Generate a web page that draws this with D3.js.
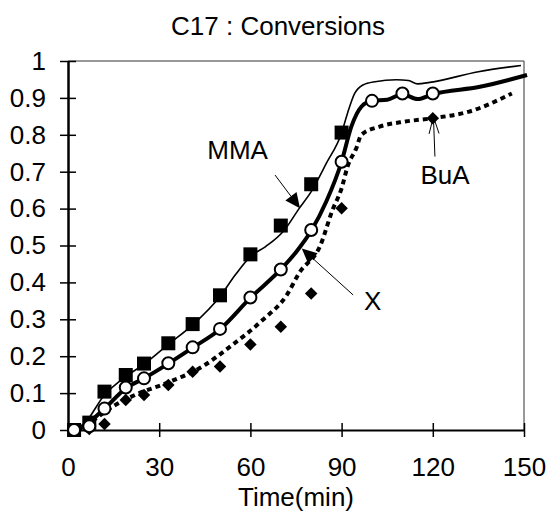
<!DOCTYPE html>
<html>
<head>
<meta charset="utf-8">
<script src="https://cdn.jsdelivr.net/npm/d3@7"></script>
<style>
  html, body { margin: 0; padding: 0; background: #fff; }
  svg { display: block; }
  text { font-family: Arial, "Liberation Sans", sans-serif; fill: #000; }
</style>
</head>
<body>
<svg id="chart" width="549" height="513"></svg>
<script>
// ---- data ----
const title = "C17 : Conversions";
const xLabel = "Time(min)";
const xTicks = [0, 30, 60, 90, 120, 150];
const yTicks = [0, 0.1, 0.2, 0.3, 0.4, 0.5, 0.6, 0.7, 0.8, 0.9, 1];

// experimental points
const mmaT = [2, 7, 12, 19, 25, 33, 41, 50, 60, 70, 80, 90];
const mmaV = [0, 0.02, 0.104, 0.149, 0.18, 0.235, 0.287, 0.365, 0.476, 0.554, 0.666, 0.806];
const xT = [2, 7, 12, 19, 25, 33, 41, 50, 60, 70, 80, 90, 100, 110, 120];
const xV = [0, 0.01, 0.058, 0.115, 0.14, 0.181, 0.224, 0.274, 0.359, 0.435, 0.542, 0.727, 0.892, 0.912, 0.912];
const buaT = [2, 7, 12, 19, 25, 33, 41, 50, 60, 70, 80, 90, 120];
const buaV = [0, 0.003, 0.016, 0.081, 0.095, 0.122, 0.158, 0.172, 0.232, 0.28, 0.37, 0.601, 0.845];

// model curves
const mmaFitT = [0, 5, 12, 19, 25, 33, 41, 50, 55, 60, 65, 71, 76, 80, 85, 90, 92, 94.3, 97, 101, 108, 112, 115, 119, 135, 149];
const mmaFitV = [0, 0.015, 0.095, 0.145, 0.178, 0.232, 0.285, 0.362, 0.42, 0.47, 0.497, 0.54, 0.6, 0.646, 0.723, 0.805, 0.86, 0.912, 0.935, 0.944, 0.949, 0.947, 0.938, 0.942, 0.971, 0.988];
const xFitT = [0, 5, 12, 19, 25, 33, 41, 50, 60, 70, 75, 80, 85, 90, 93.2, 96.5, 100, 105, 110, 115, 120, 135.5, 151];
const xFitV = [0, 0.01, 0.058, 0.113, 0.14, 0.18, 0.223, 0.273, 0.358, 0.435, 0.482, 0.54, 0.62, 0.727, 0.822, 0.876, 0.892, 0.895, 0.91, 0.897, 0.91, 0.93, 0.962];
const buaFitT = [0, 5, 9, 15, 22, 32, 45, 53, 64, 72, 76, 83, 87, 90, 92, 94.8, 96.5, 102.5, 111, 120, 132, 146];
const buaFitV = [0, 0.005, 0.03, 0.065, 0.095, 0.126, 0.176, 0.224, 0.298, 0.366, 0.425, 0.5, 0.596, 0.655, 0.715, 0.763, 0.8, 0.822, 0.836, 0.845, 0.863, 0.912];

// annotations (in data units)
const annLabels = ["MMA", "X", "BuA"];
const annTextT = [55.8, 100.2, 124];
const annTextV = [0.734, 0.325, 0.667];
const annFromT = [68.1, 93.8, 120.7];
const annFromV = [0.691, 0.366, 0.741];
const annToT = [76.3, 76.9, 120.2];
const annToV = [0.601, 0.492, 0.849];
const annHead = ["filled", "filled", "open"];

// ---- drawing ----
const W = 549, H = 513;
const margin = { left: 68, right: 25, top: 61, bottom: 83 };
const svg = d3.select("#chart");
const x = d3.scaleLinear().domain([0, 150]).range([margin.left, W - margin.right]);
const y = d3.scaleLinear().domain([0, 1]).range([H - margin.bottom, margin.top]);
const FS = 26;

// title
svg.append("text").attr("x", 278).attr("y", 35).attr("text-anchor", "middle")
  .attr("font-size", FS).text(title);

// frame top/right
svg.append("line").attr("x1", x(0)).attr("x2", x(150)).attr("y1", y(1)).attr("y2", y(1))
  .attr("stroke", "#333").attr("stroke-width", 1);
svg.append("line").attr("x1", x(150)).attr("x2", x(150)).attr("y1", y(1)).attr("y2", y(0))
  .attr("stroke", "#333").attr("stroke-width", 1);

// axes
const gx = svg.append("g").attr("transform", `translate(0,${y(0)})`)
  .call(d3.axisBottom(x).tickValues(xTicks).tickFormat(d3.format("d")).tickSize(7).tickSizeOuter(0));
gx.selectAll(".tick line").attr("y1", -7).attr("y2", 7).attr("stroke", "#000").attr("stroke-width", 1.5);
gx.select(".domain").attr("stroke", "#000").attr("stroke-width", 2);
gx.selectAll(".tick text").attr("y", 28).attr("font-size", FS)
  .attr("font-family", "Arial, 'Liberation Sans', sans-serif").attr("fill", "#000");

const gy = svg.append("g").attr("transform", `translate(${x(0)},0)`)
  .call(d3.axisLeft(y).tickValues(yTicks).tickFormat(d => d3.format("")(+d.toFixed(1))).tickSize(8).tickSizeOuter(0));
gy.selectAll(".tick line").attr("x1", 8).attr("x2", -8).attr("stroke", "#000").attr("stroke-width", 1.5);
gy.select(".domain").attr("stroke", "#000").attr("stroke-width", 2.5);
gy.selectAll(".tick text").attr("x", -22).attr("font-size", FS)
  .attr("font-family", "Arial, 'Liberation Sans', sans-serif").attr("fill", "#000");

// x label
svg.append("text").attr("x", (x(0) + x(150)) / 2).attr("y", 506).attr("text-anchor", "middle")
  .attr("font-size", FS).text(xLabel);

const zip = (ts, vs) => ts.map((t, i) => [t, vs[i]]);
const line = d3.line().x(d => x(d[0])).y(d => y(d[1])).curve(d3.curveMonotoneX);

// model lines
svg.append("path").attr("d", line(zip(mmaFitT, mmaFitV))).attr("fill", "none")
  .attr("stroke", "#000").attr("stroke-width", 1.6);
svg.append("path").attr("d", line(zip(buaFitT, buaFitV))).attr("fill", "none")
  .attr("stroke", "#000").attr("stroke-width", 4).attr("stroke-dasharray", "5,4");
svg.append("path").attr("d", line(zip(xFitT, xFitV))).attr("fill", "none")
  .attr("stroke", "#000").attr("stroke-width", 4);

// markers
svg.append("g").selectAll("rect").data(zip(mmaT, mmaV)).join("rect")
  .attr("x", d => x(d[0]) - 7).attr("y", d => y(d[1]) - 7)
  .attr("width", 14).attr("height", 14).attr("fill", "#000");
const diamond = d3.symbol().type(d3.symbolSquare).size(78);
svg.append("g").selectAll("path").data(zip(buaT, buaV)).join("path")
  .attr("d", diamond)
  .attr("transform", d => `translate(${x(d[0])},${y(d[1])}) rotate(45)`)
  .attr("fill", "#000");
svg.append("g").selectAll("circle").data(zip(xT, xV)).join("circle")
  .attr("cx", d => x(d[0])).attr("cy", d => y(d[1])).attr("r", 6)
  .attr("fill", "#fff").attr("stroke", "#000").attr("stroke-width", 2);

// annotations
annLabels.forEach((lab, i) => {
  svg.append("text").attr("x", x(annTextT[i])).attr("y", y(annTextV[i]))
    .attr("text-anchor", "middle").attr("font-size", FS).text(lab);
  const x1 = x(annFromT[i]), y1 = y(annFromV[i]);
  const x2 = x(annToT[i]), y2 = y(annToV[i]);
  const ang = Math.atan2(y2 - y1, x2 - x1);
  const L = annHead[i] === "filled" ? 15 : 17;
  const hw = annHead[i] === "filled" ? 7 : 5;
  const bx = x2 - L * Math.cos(ang), by = y2 - L * Math.sin(ang);
  const px = -Math.sin(ang) * hw, py = Math.cos(ang) * hw;
  if (annHead[i] === "filled") {
    svg.append("line").attr("x1", x1).attr("y1", y1).attr("x2", bx).attr("y2", by)
      .attr("stroke", "#000").attr("stroke-width", 1);
    svg.append("path").attr("d", `M${x2},${y2}L${bx + px},${by + py}L${bx - px},${by - py}Z`)
      .attr("fill", "#000");
  } else {
    svg.append("line").attr("x1", x1).attr("y1", y1).attr("x2", x2).attr("y2", y2)
      .attr("stroke", "#000").attr("stroke-width", 1);
    svg.append("path").attr("d", `M${bx + px},${by + py}L${x2},${y2}L${bx - px},${by - py}`)
      .attr("fill", "none").attr("stroke", "#000").attr("stroke-width", 1);
  }
});
</script>
</body>
</html>
